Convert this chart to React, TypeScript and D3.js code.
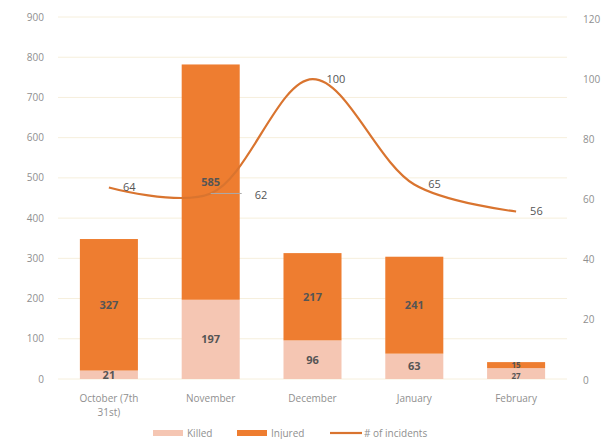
import React from "react";
import * as d3 from "d3";

const categories = ["October (7th|31st)", "November", "December", "January", "February"];
const killed = [21, 197, 96, 63, 27];
const injured = [327, 585, 217, 241, 15];
const incidents = [64, 62, 100, 65, 56];
const leftTicks = [0, 100, 200, 300, 400, 500, 600, 700, 800, 900];
const rightTicks = [0, 20, 40, 60, 80, 100, 120];
const legendItems = ["Killed", "Injured", "# of incidents"];

const W = 608;
const H = 439;
const KILLED_C = "#f5c6b3";
const INJURED_C = "#ee7d30";
const LINE_C = "#d9742f";
const AXIS_C = "#8f8f8f";
const FONT = "'Open Sans', 'Noto Sans', sans-serif";

export default function App() {
  const x = d3.scaleBand<string>().domain(categories).range([58, 567]).paddingInner(0.43).paddingOuter(0.215);
  const yL = d3.scaleLinear().domain([0, 900]).range([379, 17]);
  const yR = d3.scaleLinear().domain([0, 120]).range([380, 19]);
  const cx = (i: number) => (x(categories[i]) as number) + x.bandwidth() / 2;

  const line = d3
    .line<number>()
    .x((_, i) => cx(i))
    .y((d) => yR(d))
    .curve(d3.curveCatmullRom.alpha(0.5));

  return (
    <svg width={W} height={H} style={{ position: "absolute", left: 0, top: 0, background: "#fff" }} fontFamily={FONT}>
      <rect x={0} y={0} width={W} height={H} fill="#fff" />
      {leftTicks.map((t) => (
        <g key={"g" + t}>
          <line x1={58} x2={567} y1={yL(t)} y2={yL(t)} stroke="#f6efdc" strokeWidth={1} />
          <text x={44} y={yL(t)} dy="0.35em" textAnchor="end" fontSize={10} fill={AXIS_C}>
            {t}
          </text>
        </g>
      ))}
      {rightTicks.map((t) => (
        <text key={"r" + t} x={583} y={yR(t)} dy="0.35em" textAnchor="start" fontSize={10} fill={AXIS_C}>
          {t}
        </text>
      ))}
      {categories.map((c, i) => {
        const bx = x(c) as number;
        const bw = x.bandwidth();
        const k0 = yL(0);
        const k1 = yL(killed[i]);
        const j1 = yL(killed[i] + injured[i]);
        const small = k1 - j1 < 14;
        const fs = small ? 8 : 11;
        return (
          <g key={c}>
            <rect x={bx} y={k1} width={bw} height={k0 - k1} fill={KILLED_C} />
            <rect x={bx} y={j1} width={bw} height={k1 - j1} fill={INJURED_C} />
            <text x={bx + bw / 2} y={(k0 + k1) / 2 + (small ? 3 : 0)} dy="0.35em" textAnchor="middle" fontSize={fs} fontWeight="bold" fill="#555">
              {killed[i]}
            </text>
            <text x={bx + bw / 2} y={(k1 + j1) / 2} dy="0.35em" textAnchor="middle" fontSize={fs} fontWeight="bold" fill="#555">
              {injured[i]}
            </text>
            {c.split("|").map((s, li) => (
              <text key={li} x={bx + bw / 2} y={398 + li * 14} dy="0.35em" textAnchor="middle" fontSize={10} fill={AXIS_C}>
                {s}
              </text>
            ))}
          </g>
        );
      })}
      <path d={line(incidents) || ""} fill="none" stroke={LINE_C} strokeWidth={2.2} />
      {incidents.map((v, i) => {
        if (i === 1) {
          return (
            <g key={"l" + i}>
              <line x1={cx(i)} x2={cx(i) + 31} y1={yR(v)} y2={yR(v)} stroke="#aaa" strokeWidth={1} />
              <text x={cx(i) + 44} y={yR(v) + 2} dy="0.35em" textAnchor="start" fontSize={11} fill="#555">
                {v}
              </text>
            </g>
          );
        }
        return (
          <text key={"l" + i} x={cx(i) + 14} y={yR(v)} dy="0.35em" textAnchor="start" fontSize={11} fill="#555">
            {v}
          </text>
        );
      })}
      <g>
        <rect x={153} y={430} width={30} height={6} fill={KILLED_C} />
        <text x={187} y={433} dy="0.35em" fontSize={10} fill={AXIS_C}>{legendItems[0]}</text>
        <rect x={237} y={430} width={30} height={6} fill={INJURED_C} />
        <text x={271} y={433} dy="0.35em" fontSize={10} fill={AXIS_C}>{legendItems[1]}</text>
        <line x1={330} x2={362} y1={433} y2={433} stroke={LINE_C} strokeWidth={2.2} />
        <text x={364} y={433} dy="0.35em" fontSize={10} fill={AXIS_C}>{legendItems[2]}</text>
      </g>
    </svg>
  );
}
